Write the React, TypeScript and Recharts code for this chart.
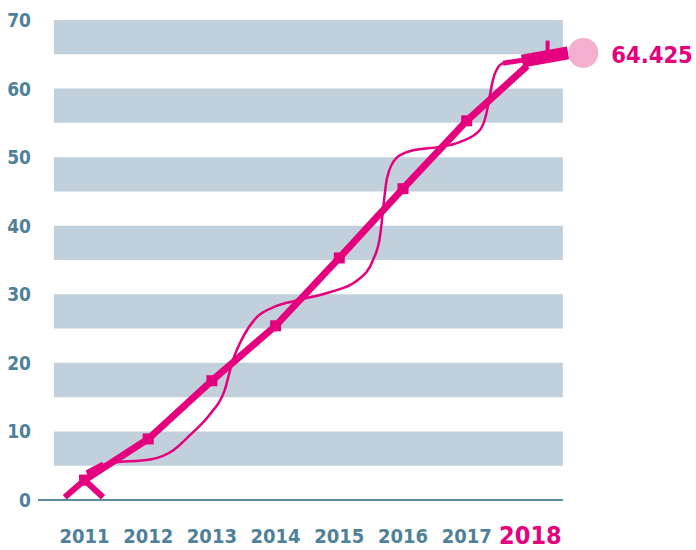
import React from 'react';
import {
  ComposedChart,
  Line,
  Scatter,
  XAxis,
  YAxis,
  ReferenceArea,
  ReferenceLine
} from 'recharts';

// main series, one value per year
const years = [2011, 2012, 2013, 2014, 2015, 2016, 2017];
const values = [2.9, 8.9, 17.4, 25.4, 35.3, 45.4, 55.3];
const mainEnd = { x: 2017.95, y: 63.3 };

// thin wavy curve
const curveYears = [
  2011.04, 2011.4, 2012.03, 2012.4, 2012.66, 2012.97, 2013.2, 2013.33, 2013.49,
  2013.71, 2013.96, 2014.38, 2014.85, 2015.28, 2015.53, 2015.64, 2015.69,
  2015.75, 2015.91, 2016.16, 2016.58, 2016.89, 2017.21, 2017.3, 2017.36,
  2017.41, 2017.49, 2017.57
];
const curveValues = [
  3.9, 5.4, 5.9, 7.3, 9.5, 12.5, 16, 20.4, 23.8, 26.7, 28.1, 29.2, 30.3, 32,
  35, 38.5, 42.6, 47, 50, 51, 51.5, 52.2, 54, 56, 58.8, 61.2, 63.1, 63.7
];

// the strokes at the start and at the end
const legYears = [2010.69, 2011, 2011.29];
const legValues = [0.4, 2.9, 0.4];
const kinkYears = [2011.04, 2011.3];
const kinkValues = [3.9, 5.2];
const tailYears = [2017.57, 2018.59];
const tailValues = [63.7, 65.2];
const headYears = [2017.87, 2018.59];
const headValues = [64.0, 65.2];
const flagYears = [2018.27, 2018.27];
const flagValues = [65.2, 67.0];

const lastYear = 2018;
const lastValue = '64.425';
const bubble = [{ x: 2018.83, y: 65.2 }];

const yTicks = [0, 10, 20, 30, 40, 50, 60, 70];
const xTicks = [2011, 2012, 2013, 2014, 2015, 2016, 2017, 2018];
const bands = [5, 15, 25, 35, 45, 55, 65];

const PINK = '#e5007d';
const GREY = '#4f8199';
const BAND = '#c2d0db';
const FONT = '"DejaVu Sans Condensed", "DejaVu Sans", sans-serif';

const toPoints = (xs: number[], ys: number[]) => xs.map((x, i) => ({ x, y: ys[i] }));

const mainData = [...toPoints(years, values), { ...mainEnd, end: true }];

const SquareDot = (props: any) => {
  const { cx, cy, payload, index } = props;
  if (payload?.end) return <g key={index} />;
  return <rect key={index} x={cx - 5.5} y={cy - 5.5} width={11} height={11} fill={PINK} />;
};

const XTick = (props: any) => {
  const { x, payload } = props;
  const last = payload.value === lastYear;
  return (
    <text
      x={x}
      y={last ? 544 : 543}
      textAnchor="middle"
      fill={last ? PINK : GREY}
      fontFamily={FONT}
      fontWeight="bold"
      fontSize={last ? 25 : 20}
    >
      {payload.value}
    </text>
  );
};

const YTick = (props: any) => {
  const { y, payload } = props;
  return (
    <text
      x={31}
      y={y + 7}
      textAnchor="end"
      fill={GREY}
      fontFamily={FONT}
      fontWeight="bold"
      fontSize={19}
    >
      {payload.value}
    </text>
  );
};

const Bubble = (props: any) => {
  const { cx, cy } = props;
  return (
    <g>
      <circle cx={cx} cy={cy} r={15} fill="#f4afcf" />
      <text
        x={cx + 28}
        y={cy + 10}
        fill={PINK}
        fontFamily={FONT}
        fontWeight="bold"
        fontSize={23.5}
      >
        {lastValue}
      </text>
    </g>
  );
};

export default function App() {
  return (
    <div style={{ position: 'absolute', left: 0, top: 0, background: '#fff' }}>
      <ComposedChart
        width={696}
        height={550}
        margin={{ top: 20, right: 0, bottom: 0, left: 0 }}
      >
        <XAxis
          type="number"
          dataKey="x"
          domain={[2010.27, 2020.6]}
          ticks={xTicks}
          interval={0}
          allowDataOverflow
          axisLine={false}
          tickLine={false}
          height={50}
          tick={<XTick />}
        />
        <YAxis
          type="number"
          domain={[0, 70]}
          ticks={yTicks}
          allowDataOverflow
          axisLine={false}
          tickLine={false}
          width={38}
          tick={<YTick />}
        />
        {bands.map((b) => (
          <ReferenceArea
            key={b}
            x1={2010.52}
            x2={2018.51}
            y1={b}
            y2={b + 5}
            fill={BAND}
            fillOpacity={1}
            stroke="none"
            ifOverflow="visible"
          />
        ))}
        <ReferenceLine
          segment={[{ x: 2010.27, y: 0 }, { x: 2018.51, y: 0 }]}
          stroke="#5b8ba3"
          strokeWidth={2}
          ifOverflow="visible"
        />
        <Line
          data={toPoints(curveYears, curveValues)}
          dataKey="y"
          type="monotone"
          stroke={PINK}
          strokeWidth={2.5}
          dot={false}
          isAnimationActive={false}
        />
        <Line
          data={toPoints(legYears, legValues)}
          dataKey="y"
          type="linear"
          stroke={PINK}
          strokeWidth={6}
          dot={false}
          isAnimationActive={false}
        />
        <Line
          data={toPoints(kinkYears, kinkValues)}
          dataKey="y"
          type="linear"
          stroke={PINK}
          strokeWidth={6}
          dot={false}
          isAnimationActive={false}
        />
        <Line
          data={mainData}
          dataKey="y"
          type="linear"
          stroke={PINK}
          strokeWidth={7}
          dot={SquareDot}
          isAnimationActive={false}
        />
        <Line
          data={toPoints(tailYears, tailValues)}
          dataKey="y"
          type="linear"
          stroke={PINK}
          strokeWidth={5}
          dot={false}
          isAnimationActive={false}
        />
        <Line
          data={toPoints(headYears, headValues)}
          dataKey="y"
          type="linear"
          stroke={PINK}
          strokeWidth={13}
          dot={false}
          isAnimationActive={false}
        />
        <Line
          data={toPoints(flagYears, flagValues)}
          dataKey="y"
          type="linear"
          stroke={PINK}
          strokeWidth={4}
          dot={false}
          isAnimationActive={false}
        />
        <Scatter data={bubble} dataKey="y" shape={<Bubble />} isAnimationActive={false} />
      </ComposedChart>
    </div>
  );
}
